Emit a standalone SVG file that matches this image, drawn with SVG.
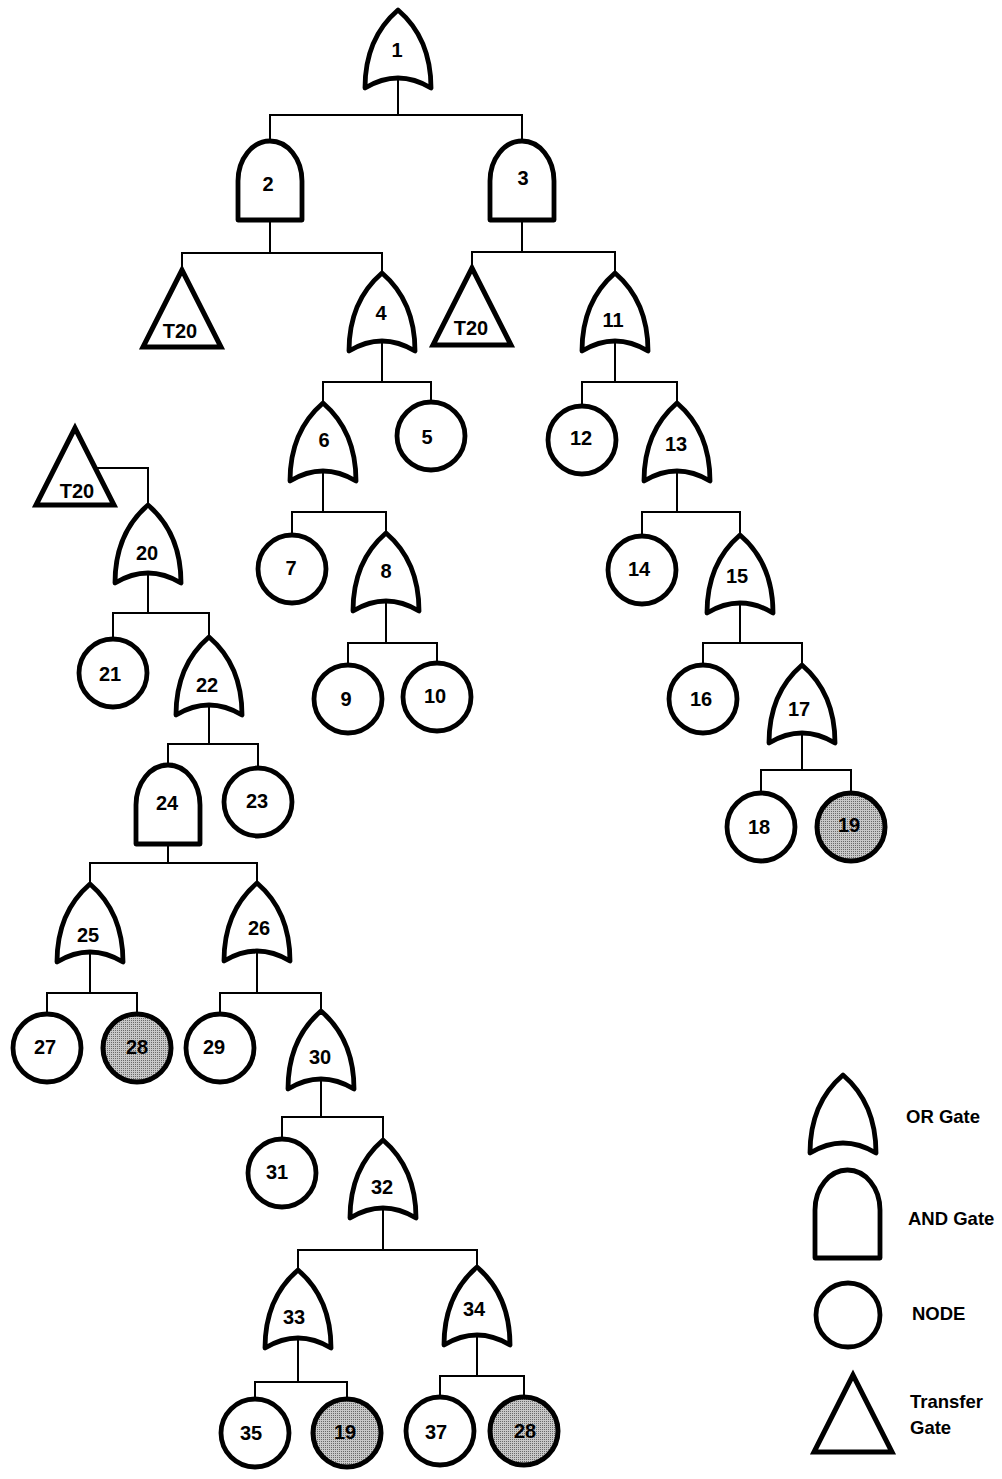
<svg xmlns="http://www.w3.org/2000/svg" xmlns:xlink="http://www.w3.org/1999/xlink" width="1002" height="1479" viewBox="0 0 1002 1479">
  <style>
    .shape { fill: #fff; stroke: #000; stroke-width: 4.8; stroke-linejoin: round; }
    .tri { fill: #fff; stroke: #000; stroke-width: 5; stroke-linejoin: miter; }
    .shaded { fill: url(#stipple); stroke: #000; stroke-width: 5; }
    .wire { fill: none; stroke: #000; stroke-width: 2; }
    .lbl { font-family: "Liberation Sans", Arial, sans-serif; font-weight: bold; font-size: 20px; text-anchor: middle; fill: #000; }
    .key { font-family: "Liberation Sans", Arial, sans-serif; font-weight: bold; font-size: 18.5px; fill: #000; }
  </style>
  <defs>
    <!-- OR gate: origin at the apex -->
    <path id="or" d="M0,0 C-14,12 -33,35 -33,78 Q0,58 33,78 C33,35 14,12 0,0 Z"/>
    <!-- AND gate: origin at the top centre -->
    <path id="and" d="M-32,79 L-32,40 A32,40 0 0 1 32,40 L32,79 Z"/>
    <!-- transfer gate: origin at the apex -->
    <path id="tri" d="M0,0 L-39,77 L39,77 Z"/>
    <circle id="node" cx="0" cy="0" r="34"/>
    <pattern id="stipple" width="2" height="2" patternUnits="userSpaceOnUse">
      <rect width="2" height="2" fill="#c8c8c8"/>
      <rect width="1" height="1" fill="#6a6a6a"/>
    </pattern>
  </defs>

  <rect width="1002" height="1479" fill="#fff"/>

  <!-- connectors -->
  <g id="connectors" class="wire">
    <path d="M398,78 V115 M270,141 V115 H522 V141"/>
    <path d="M270,220 V253 M182,270 V253 H382 V273"/>
    <path d="M522,220 V252 M472,268 V252 H615 V273"/>
    <path d="M382,341 V382 M323,403 V382 H431 V402"/>
    <path d="M615,341 V382 M582,406 V382 H677 V403"/>
    <path d="M323,471 V512 M292,535 V512 H386 V533"/>
    <path d="M677,471 V512 M642,536 V512 H740 V535"/>
    <path d="M386,601 V643 M348,665 V643 H437 V663"/>
    <path d="M740,603 V643 M703,665 V643 H802 V665"/>
    <path d="M802,733 V770 M761,793 V770 H851 V793"/>
    <path d="M95,468 H148 V505"/>
    <path d="M148,573 V613 M113,639 V613 H209 V637"/>
    <path d="M209,705 V744 M168,765 V744 H258 V768"/>
    <path d="M168,844 V863 M90,884 V863 H257 V883"/>
    <path d="M90,952 V993 M47,1014 V993 H137 V1014"/>
    <path d="M257,951 V993 M220,1014 V993 H321 V1011"/>
    <path d="M321,1079 V1117 M282,1139 V1117 H383 V1140"/>
    <path d="M383,1208 V1250 M298,1270 V1250 H477 V1267"/>
    <path d="M298,1338 V1382 M255,1399 V1382 H347 V1399"/>
    <path d="M477,1335 V1376 M440,1397 V1376 H524 V1397"/>
  </g>

  <!-- gates and nodes -->
  <g id="g1"><use xlink:href="#or" class="shape" x="398" y="10"/><text class="lbl" x="397" y="57">1</text></g>
  <g id="g2"><use xlink:href="#and" class="shape" x="270" y="141"/><text class="lbl" x="268" y="191">2</text></g>
  <g id="g3"><use xlink:href="#and" class="shape" x="522" y="141"/><text class="lbl" x="523" y="185">3</text></g>
  <g id="t20a"><use xlink:href="#tri" class="tri" x="182" y="270"/><text class="lbl" x="180" y="338">T20</text></g>
  <g id="g4"><use xlink:href="#or" class="shape" x="382" y="273"/><text class="lbl" x="381" y="320">4</text></g>
  <g id="t20b"><use xlink:href="#tri" class="tri" x="472" y="268"/><text class="lbl" x="471" y="335">T20</text></g>
  <g id="g11"><use xlink:href="#or" class="shape" x="615" y="273"/><text class="lbl" x="613" y="327">11</text></g>
  <g id="g6"><use xlink:href="#or" class="shape" x="323" y="403"/><text class="lbl" x="324" y="447">6</text></g>
  <g id="n5"><use xlink:href="#node" class="shape" x="431" y="436"/><text class="lbl" x="427" y="444">5</text></g>
  <g id="n12"><use xlink:href="#node" class="shape" x="582" y="440"/><text class="lbl" x="581" y="445">12</text></g>
  <g id="g13"><use xlink:href="#or" class="shape" x="677" y="403"/><text class="lbl" x="676" y="451">13</text></g>
  <g id="n7"><use xlink:href="#node" class="shape" x="292" y="569"/><text class="lbl" x="291" y="575">7</text></g>
  <g id="g8"><use xlink:href="#or" class="shape" x="386" y="533"/><text class="lbl" x="386" y="578">8</text></g>
  <g id="n9"><use xlink:href="#node" class="shape" x="348" y="699"/><text class="lbl" x="346" y="706">9</text></g>
  <g id="n10"><use xlink:href="#node" class="shape" x="437" y="697"/><text class="lbl" x="435" y="703">10</text></g>
  <g id="n14"><use xlink:href="#node" class="shape" x="642" y="570"/><text class="lbl" x="639" y="576">14</text></g>
  <g id="g15"><use xlink:href="#or" class="shape" x="740" y="535"/><text class="lbl" x="737" y="583">15</text></g>
  <g id="n16"><use xlink:href="#node" class="shape" x="703" y="699"/><text class="lbl" x="701" y="706">16</text></g>
  <g id="g17"><use xlink:href="#or" class="shape" x="802" y="665"/><text class="lbl" x="799" y="716">17</text></g>
  <g id="n18"><use xlink:href="#node" class="shape" x="761" y="827"/><text class="lbl" x="759" y="834">18</text></g>
  <g id="n19a"><use xlink:href="#node" class="shaded" x="851" y="827"/><text class="lbl" x="849" y="832">19</text></g>

  <g id="t20c"><use xlink:href="#tri" class="tri" x="75" y="428"/><text class="lbl" x="77" y="498">T20</text></g>
  <g id="g20"><use xlink:href="#or" class="shape" x="148" y="505"/><text class="lbl" x="147" y="560">20</text></g>
  <g id="n21"><use xlink:href="#node" class="shape" x="113" y="673"/><text class="lbl" x="110" y="681">21</text></g>
  <g id="g22"><use xlink:href="#or" class="shape" x="209" y="637"/><text class="lbl" x="207" y="692">22</text></g>
  <g id="g24"><use xlink:href="#and" class="shape" x="168" y="765"/><text class="lbl" x="167" y="810">24</text></g>
  <g id="n23"><use xlink:href="#node" class="shape" x="258" y="802"/><text class="lbl" x="257" y="808">23</text></g>
  <g id="g25"><use xlink:href="#or" class="shape" x="90" y="884"/><text class="lbl" x="88" y="942">25</text></g>
  <g id="g26"><use xlink:href="#or" class="shape" x="257" y="883"/><text class="lbl" x="259" y="935">26</text></g>
  <g id="n27"><use xlink:href="#node" class="shape" x="47" y="1048"/><text class="lbl" x="45" y="1054">27</text></g>
  <g id="n28a"><use xlink:href="#node" class="shaded" x="137" y="1048"/><text class="lbl" x="137" y="1054">28</text></g>
  <g id="n29"><use xlink:href="#node" class="shape" x="220" y="1048"/><text class="lbl" x="214" y="1054">29</text></g>
  <g id="g30"><use xlink:href="#or" class="shape" x="321" y="1011"/><text class="lbl" x="320" y="1064">30</text></g>
  <g id="n31"><use xlink:href="#node" class="shape" x="282" y="1173"/><text class="lbl" x="277" y="1179">31</text></g>
  <g id="g32"><use xlink:href="#or" class="shape" x="383" y="1140"/><text class="lbl" x="382" y="1194">32</text></g>
  <g id="g33"><use xlink:href="#or" class="shape" x="298" y="1270"/><text class="lbl" x="294" y="1324">33</text></g>
  <g id="g34"><use xlink:href="#or" class="shape" x="477" y="1267"/><text class="lbl" x="474" y="1316">34</text></g>
  <g id="n35"><use xlink:href="#node" class="shape" x="255" y="1433"/><text class="lbl" x="251" y="1440">35</text></g>
  <g id="n19b"><use xlink:href="#node" class="shaded" x="347" y="1433"/><text class="lbl" x="345" y="1439">19</text></g>
  <g id="n37"><use xlink:href="#node" class="shape" x="440" y="1431"/><text class="lbl" x="436" y="1439">37</text></g>
  <g id="n28b"><use xlink:href="#node" class="shaded" x="524" y="1431"/><text class="lbl" x="525" y="1438">28</text></g>

  <!-- key -->
  <g id="legend">
    <use xlink:href="#or" class="shape" x="843" y="1075"/>
    <text class="key" x="906" y="1123">OR Gate</text>
    <path class="shape" d="M815,1258 L815,1210 A32.5,40 0 0 1 880,1210 L880,1258 Z"/>
    <text class="key" x="908" y="1225">AND Gate</text>
    <circle class="shape" cx="848" cy="1315" r="32"/>
    <text class="key" x="912" y="1320">NODE</text>
    <use xlink:href="#tri" class="tri" x="853" y="1375"/>
    <text class="key" x="910" y="1408">Transfer</text>
    <text class="key" x="910" y="1434">Gate</text>
  </g>
</svg>
